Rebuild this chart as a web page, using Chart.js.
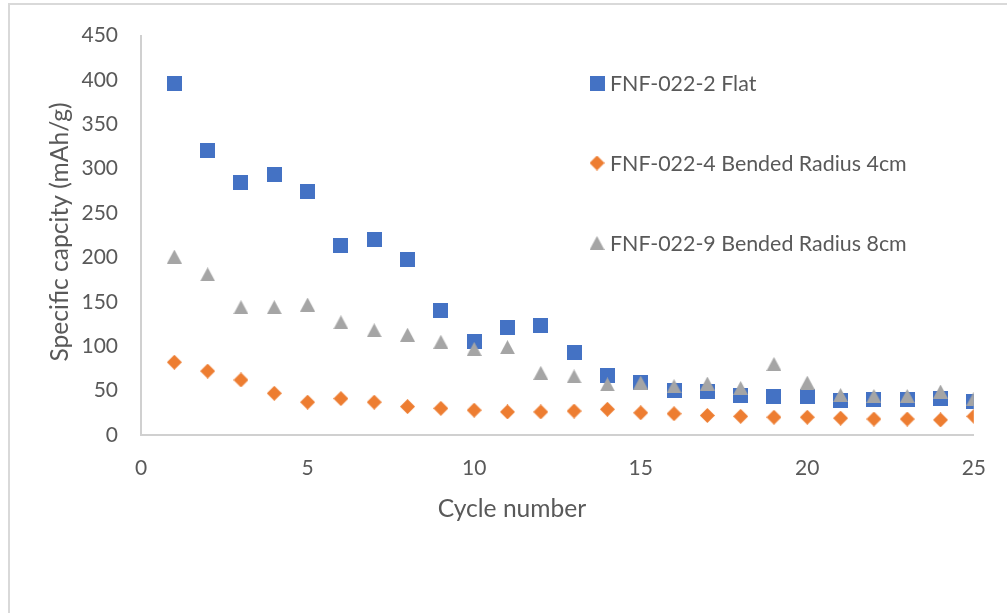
<!DOCTYPE html>
<html>
<head>
<meta charset="utf-8">
<title>Specific capacity vs cycle number</title>
<script src="https://cdn.jsdelivr.net/npm/chart.js@4/dist/chart.umd.min.js"></script>
<style>
  html, body { margin: 0; padding: 0; background: #ffffff; overflow: hidden; }
  #wrap { position: relative; width: 1007px; height: 613px; }
  #frame { position: absolute; left: 8px; top: 3px; right: -10px; bottom: -10px;
           border-top: 2px solid #d9d9d9; border-left: 2px solid #d9d9d9; }
  #c { position: absolute; left: 0; top: 0; }
</style>
</head>
<body>
<div id="wrap">
  <div id="frame"></div>
  <canvas id="c" width="1007" height="613"></canvas>
</div>
<script>
// ---- data ----
const cycles = [1, 2, 3, 4, 5, 6, 7, 8, 9, 10, 11, 12, 13, 14, 15, 16, 17, 18, 19, 20, 21, 22, 23, 24, 25];
const flat    = [396, 321, 285, 294, 274, 213, 220, 198, 140, 105, 121, 123, 93, 67, 59, 50, 49, 45, 43, 43, 39, 40, 40, 41, 38];
const bent4cm = [82, 72, 62, 47, 37, 41, 37, 32, 30, 28, 26, 26, 27, 29, 25, 24, 22, 21, 20, 20, 19, 18, 18, 17, 21];
const bent8cm = [201, 181, 144, 144, 147, 127, 118, 113, 105, 97, 99, 70, 66, 57, 59, 55, 58, 53, 80, 59, 45, 44, 44, 49, 41];
const seriesNames = ['FNF-022-2 Flat', 'FNF-022-4 Bended Radius 4cm', 'FNF-022-9 Bended Radius 8cm'];
const seriesColors = ['#4472C4', '#ED7D31', '#A5A5A5'];
const xTitle = 'Cycle number';
const yTitle = 'Specific capcity (mAh/g)';
const xRange = [0, 25, 5];
const yRange = [0, 450, 50];

const TEXT = '#595959';
const FONT = 'Lato, "Open Sans", sans-serif';

// ---- marker sprites (centred on their bounding box) ----
function sprite(kind, color) {
  const c = document.createElement('canvas');
  const w = 15, h = kind === 'tri' ? 14 : 15;
  c.width = w; c.height = h;
  const g = c.getContext('2d');
  g.fillStyle = color;
  g.beginPath();
  if (kind === 'square') {
    g.rect(0, 0, w, h);
  } else if (kind === 'diamond') {
    g.moveTo(w / 2, 0); g.lineTo(w, h / 2); g.lineTo(w / 2, h); g.lineTo(0, h / 2);
  } else {
    g.moveTo(w / 2, 0); g.lineTo(w, h); g.lineTo(0, h);
  }
  g.closePath();
  g.fill();
  return c;
}
const markers = [
  sprite('square', seriesColors[0]),
  sprite('diamond', seriesColors[1]),
  sprite('tri', seriesColors[2])
];

const pts = arr => cycles.map((c, i) => ({ x: c, y: arr[i] }));
const values = [flat, bent4cm, bent8cm];

const datasets = values.map((v, i) => ({
  label: seriesNames[i],
  data: pts(v),
  pointStyle: markers[i],
  pointRadius: 8,
  pointHoverRadius: 8,
  backgroundColor: seriesColors[i],
  borderColor: seriesColors[i],
  showLine: false,
  order: 2 - i
}));

// ---- legend and axis captions ----
const captions = {
  id: 'captions',
  afterDraw(chart) {
    const ctx = chart.ctx;
    ctx.save();
    ctx.fillStyle = TEXT;
    // legend
    ctx.font = '21.4px ' + FONT;
    ctx.textAlign = 'left';
    ctx.textBaseline = 'alphabetic';
    const rows = [83, 163, 243];
    rows.forEach((cy, i) => {
      const m = markers[i];
      ctx.drawImage(m, 597 - m.width / 2, cy - m.height / 2);
      ctx.fillText(seriesNames[i], 610, cy + 7.5);
    });
    // axis titles
    ctx.font = '24.6px ' + FONT;
    ctx.textAlign = 'center';
    ctx.fillText(xTitle, 512, 517);
    ctx.translate(68, 232);
    ctx.rotate(-Math.PI / 2);
    ctx.fillText(yTitle, 0, 0);
    ctx.restore();
  }
};

new Chart(document.getElementById('c'), {
  type: 'scatter',
  data: { datasets },
  options: {
    responsive: false,
    animation: false,
    events: [],
    layout: { padding: { top: 33, right: 32, left: 0, bottom: 0 } },
    plugins: { legend: { display: false }, tooltip: { enabled: false } },
    scales: {
      x: {
        type: 'linear',
        min: xRange[0], max: xRange[1],
        ticks: { stepSize: xRange[2], color: TEXT, font: { family: FONT, size: 21 }, padding: 21 },
        grid: { display: true, drawOnChartArea: false, drawTicks: false },
        border: { display: true, color: '#d0d0d0', width: 2 },
        afterFit: s => { s.height = 178; }
      },
      y: {
        type: 'linear',
        min: yRange[0], max: yRange[1],
        ticks: { stepSize: yRange[2], color: TEXT, font: { family: FONT, size: 21 }, padding: 23 },
        grid: { display: true, drawOnChartArea: false, drawTicks: false },
        border: { display: true, color: '#d0d0d0', width: 2 },
        afterFit: s => { s.width = 141; }
      }
    }
  },
  plugins: [captions]
});
</script>
</body>
</html>
